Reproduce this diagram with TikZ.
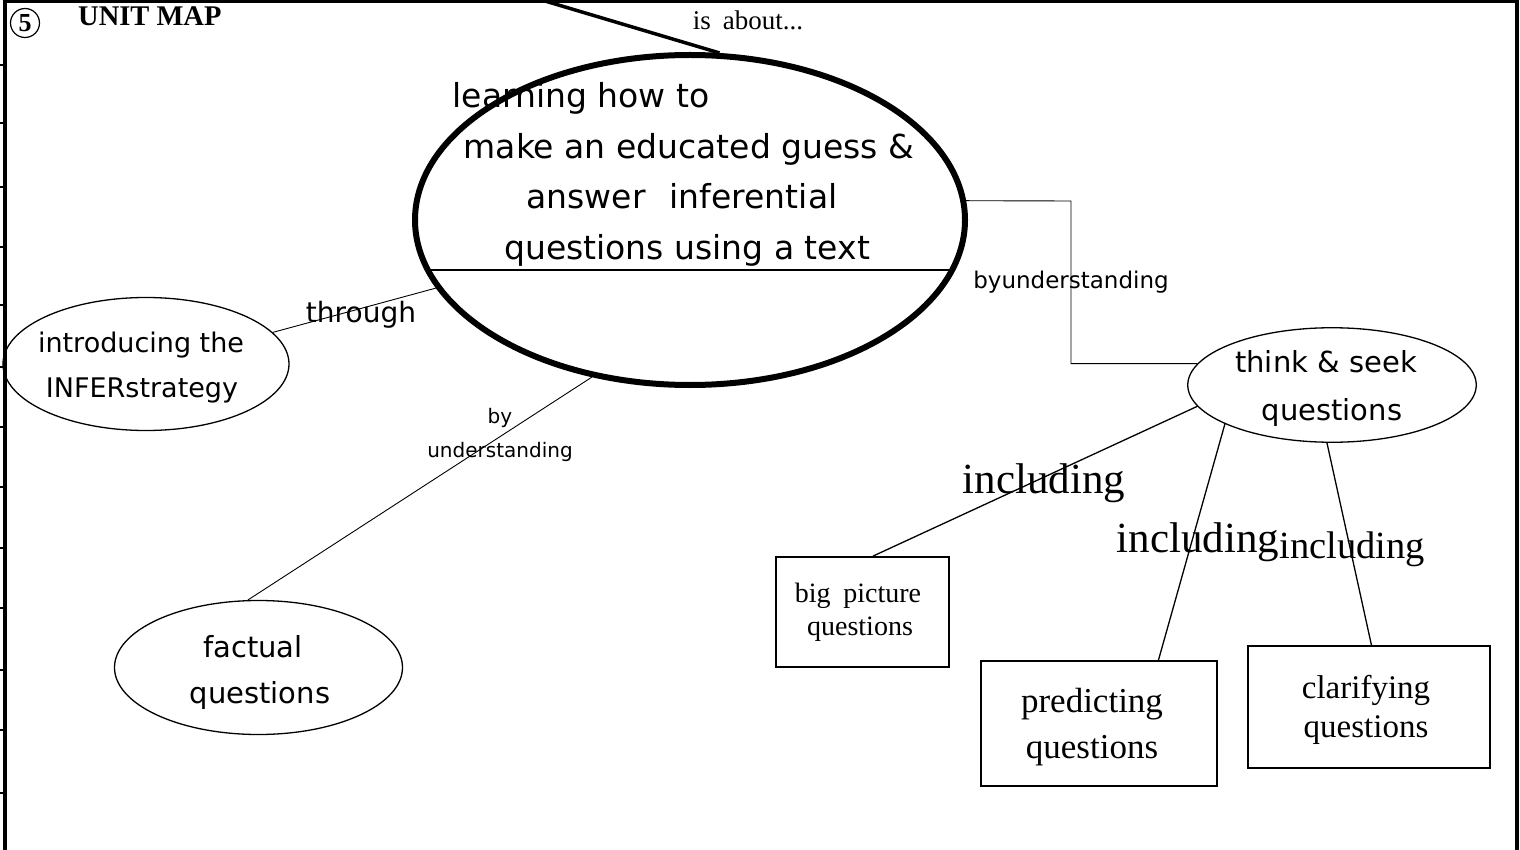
\documentclass[tikz,border=0pt]{standalone}
\usepackage{fontspec}
\setmainfont{Liberation Serif}
\newfontfamily\comic{DejaVu Sans}
\usetikzlibrary{shapes.geometric,calc}
\begin{document}
\begin{tikzpicture}[x=1pt,y=-1pt,
  ell/.style={ellipse, draw, line width=1.3pt, inner sep=0pt},
  box/.style={rectangle, draw, line width=1.8pt, inner sep=0pt},
  cs/.style={font=\comic\fontsize{#1}{#1}\selectfont, anchor=base, inner sep=0pt},
  tr/.style={font=\fontsize{#1}{#1}\selectfont, anchor=base, inner sep=0pt},
  conn/.style={line width=0.9pt},
  connb/.style={line width=1.3pt},
  frame/.style={line width=4pt},
  tick/.style={line width=2pt}
]
\useasboundingbox (0,0) rectangle (1520,850);
% frame
\draw[frame] (5,852) -- (5,1.5) -- (1516.5,1.5) -- (1516.5,852);
\foreach \y in {65,123,187,247,305,367,427,487,548,608,670,730,793}
  \draw[tick] (0,\y) -- (5,\y);
% header
\node[circle, draw, line width=1.2pt, minimum size=29pt, inner sep=0pt] (five) at (25,23) {};
\node[tr=26, font=\bfseries\fontsize{26}{26}\selectfont] (fivetxt) at (25,32) {5};
\node[tr=28.5, anchor=base west, font=\bfseries\fontsize{28.5}{28.5}\selectfont] (title) at (78,26) {UNIT MAP};

% main ellipse
\node[ellipse, draw, line width=6pt, minimum width=550pt, minimum height=330pt, inner sep=0pt] (main) at (690,220) {};
\coordinate (chl) at (428,270);
\coordinate (chr) at (952,270);
\draw[line width=1.2pt] (chl) -- (chr);
\node[cs=33] (m1) at (581,108) {learning how to};
\node[cs=33] (m2) at (689,159) {make an educated guess \&};
\node[cs=33] (m3) at (682,209) {answer\hspace{24pt}inferential};
\node[cs=33] (m4) at (687,260) {questions using a text};

% top connector
\coordinate (topend) at (545,1);
\draw[line width=3.5pt] (topend) -- (main.80);
\node[tr=27] (isabout) at (748,30) {is\hspace{0.45em}about...};

% left ellipse
\node[ell, minimum width=286pt, minimum height=133pt] (intro) at (146,364) {};
\node[cs=27] (i1) at (141,352) {introducing the};
\node[cs=27] (i2) at (142,397) {INFERstrategy};
\draw[conn] (intro.14) -- (main.195.5);
\node[cs=28] (through) at (361,322) {through};

% factual
\node[ell, minimum width=288pt, minimum height=134pt] (factual) at (258.5,667.5) {};
\node[cs=29] (f1) at (253,657) {factual};
\node[cs=29] (f2) at (260,703) {questions};
\draw[conn] (factual.99.5) -- (main.238.7);
\node[cs=20] (bu1) at (500,423) {by};
\node[cs=20] (bu2) at (500,457) {understanding};

% think & seek
\node[ell, minimum width=288.5pt, minimum height=114.5pt] (think) at (1332,385) {};
\node[cs=29] (t1) at (1326,372) {think \& seek};
\node[cs=29] (t2) at (1332,420) {questions};
\coordinate (elb) at (1071,201);
\draw[conn] (main.4) -- (elb) |- (think.171);
\node[cs=23] (byund) at (1071,288) {byunderstanding};

% boxes
\node[box, minimum width=173pt, minimum height=110pt] (big) at (862.5,612) {};
\node[tr=28] (b1) at (858,602) {big\hspace{0.45em}picture};
\node[tr=28] (b2) at (860,635) {questions};

\node[box, minimum width=236pt, minimum height=125pt] (pred) at (1099,723.5) {};
\node[tr=35] (p1) at (1092,712) {predicting};
\node[tr=35] (p2) at (1092,758) {questions};

\node[box, minimum width=242pt, minimum height=122pt] (clar) at (1369,707) {};
\node[tr=33] (c1) at (1366,698) {clarifying};
\node[tr=33] (c2) at (1366,737) {questions};

% including connectors
\draw[connb] (think.189) -- ($(big.north west)!0.56!(big.north east)$);
\draw[connb] (think.200) -- ($(pred.north west)!0.75!(pred.north east)$);
\draw[connb] (think.265) -- ($(clar.north west)!0.51!(clar.north east)$);
\node[tr=43] (inc1) at (1044,493) {including};
\node[tr=43] (inc2) at (1198,552) {including};
\node[tr=38.5] (inc3) at (1352,558) {including};
\end{tikzpicture}
\end{document}
